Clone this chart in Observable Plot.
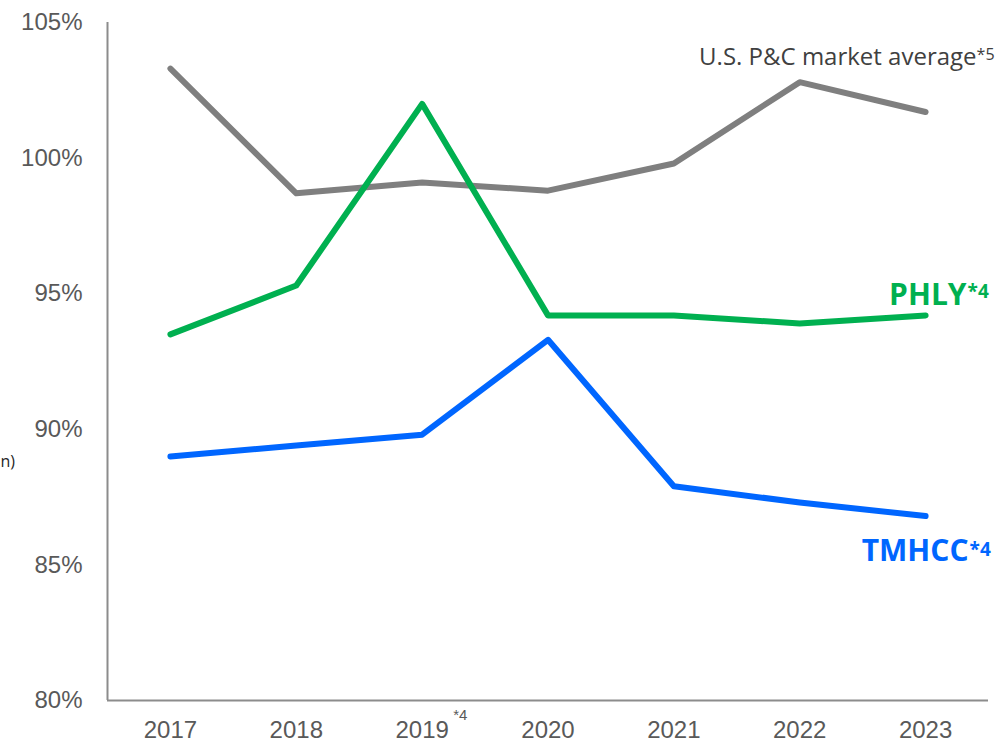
<!DOCTYPE html>
<html>
<head>
<meta charset="utf-8">
<script src="https://cdn.jsdelivr.net/npm/d3@7"></script>
<script src="https://cdn.jsdelivr.net/npm/@observablehq/plot@0.6"></script>
<style>
  html, body { margin: 0; padding: 0; background: #fff; }
  #chart svg { display: block; }
</style>
</head>
<body>
<div id="chart"></div>
<script>
const years = [2017, 2018, 2019, 2020, 2021, 2022, 2023];
const yearLabels = ["2017", "2018", "2019", "2020", "2021", "2022", "2023"];
const marketAvg = [103.3, 98.7, 99.1, 98.8, 99.8, 102.8, 101.7];
const phly = [93.5, 95.3, 102.0, 94.2, 94.2, 93.9, 94.2];
const tmhcc = [89.0, 89.4, 89.8, 93.3, 87.9, 87.3, 86.8];
const yTicks = [80, 85, 90, 95, 100, 105];
const seriesNames = ["U.S. P&C market average", "PHLY", "TMHCC"];
const seriesSups = ["*5", "*4", "*4"];
const seriesColors = ["#7f7f7f", "#00b050", "#0066ff"];
const seriesValues = [marketAvg, phly, tmhcc];

const rows = [];
seriesNames.forEach((s, i) => years.forEach((y, j) => rows.push({series: s, year: y, value: seriesValues[i][j]})));

const lastPts = seriesNames.map((s, i) => ({series: s, sup: seriesSups[i], year: years[years.length - 1], value: seriesValues[i][years.length - 1], color: seriesColors[i]}));

const labelFont = "'Open Sans', 'Noto Sans', sans-serif";
const axisFont = "'Liberation Sans', Arial, sans-serif";

const ctx = document.createElement("canvas").getContext("2d");
function tw(text, font) { ctx.font = font; return ctx.measureText(text).width; }
const supW0 = tw("*5", "16px 'Open Sans'");
const supW1 = tw("*4", "bold 19px 'Open Sans'");
const supW2 = tw("*4", "bold 19px 'Open Sans'");

const chart = Plot.plot({
  width: 1006,
  height: 742,
  marginLeft: 107,
  marginRight: 18,
  marginTop: 22,
  marginBottom: 42,
  style: {fontFamily: axisFont, background: "#fff", overflow: "visible"},
  x: {domain: [2016.5, 2023.5], axis: null},
  y: {domain: [80, 105], axis: null},
  color: {domain: seriesNames, range: seriesColors},
  marks: [
    Plot.axisY({ticks: yTicks, tickSize: 0, tickPadding: 25, tickFormat: d => d + "%", fontSize: 24, color: "#595959", label: null}),
    Plot.axisX({ticks: years, tickSize: 0, tickPadding: 20, tickFormat: (d, i) => yearLabels[i], fontSize: 24, color: "#595959", label: null}),
    Plot.ruleX([2016.5], {stroke: "#8c8c8c", strokeWidth: 2}),
    Plot.ruleY([80], {stroke: "#8c8c8c", strokeWidth: 2}),
    Plot.line(rows, {x: "year", y: "value", z: "series", stroke: "series", strokeWidth: 6, strokeLinecap: "round", strokeLinejoin: "round"}),
    // 2019 superscript
    Plot.text([2019], {x: d => d, y: 80, text: ["*4"], dx: 31, dy: 15, fontSize: 15, fill: "#595959", textAnchor: "start"}),
    // market average label
    Plot.text([lastPts[0]], {x: "year", y: "value", text: "series", dx: 51, dy: -47, textAnchor: "end", lineAnchor: "bottom", fontSize: 24, fontFamily: labelFont, fill: "#404040"}),
    Plot.text([lastPts[0]], {x: "year", y: "value", text: "sup", dx: 51 + supW0, dy: -52, textAnchor: "end", lineAnchor: "bottom", fontSize: 16, fontFamily: labelFont, fill: "#404040"}),
    // PHLY
    Plot.text([lastPts[1]], {x: "year", y: "value", text: "series", dx: 41, dy: -10, textAnchor: "end", lineAnchor: "bottom", fontSize: 30, fontWeight: "bold", fontFamily: labelFont, fill: "#00b050"}),
    Plot.text([lastPts[1]], {x: "year", y: "value", text: "sup", dx: 42 + supW1, dy: -17, textAnchor: "end", lineAnchor: "bottom", fontSize: 19, fontWeight: "bold", fontFamily: labelFont, fill: "#00b050"}),
    // TMHCC
    Plot.text([lastPts[2]], {x: "year", y: "value", text: "series", dx: 43, dy: 45, textAnchor: "end", lineAnchor: "bottom", fontSize: 30, fontWeight: "bold", fontFamily: labelFont, fill: "#0066ff"}),
    Plot.text([lastPts[2]], {x: "year", y: "value", text: "sup", dx: 44 + supW2, dy: 40, textAnchor: "end", lineAnchor: "bottom", fontSize: 19, fontWeight: "bold", fontFamily: labelFont, fill: "#0066ff"}),
    // clipped side label remnant
    Plot.text(["n)"], {x: 2016.5, y: 89, dx: -107, dy: 5, text: d => d, textAnchor: "start", fontSize: 16, fill: "#262626", fontFamily: labelFont})
  ]
});
document.getElementById("chart").appendChild(chart);
</script>
</body>
</html>
